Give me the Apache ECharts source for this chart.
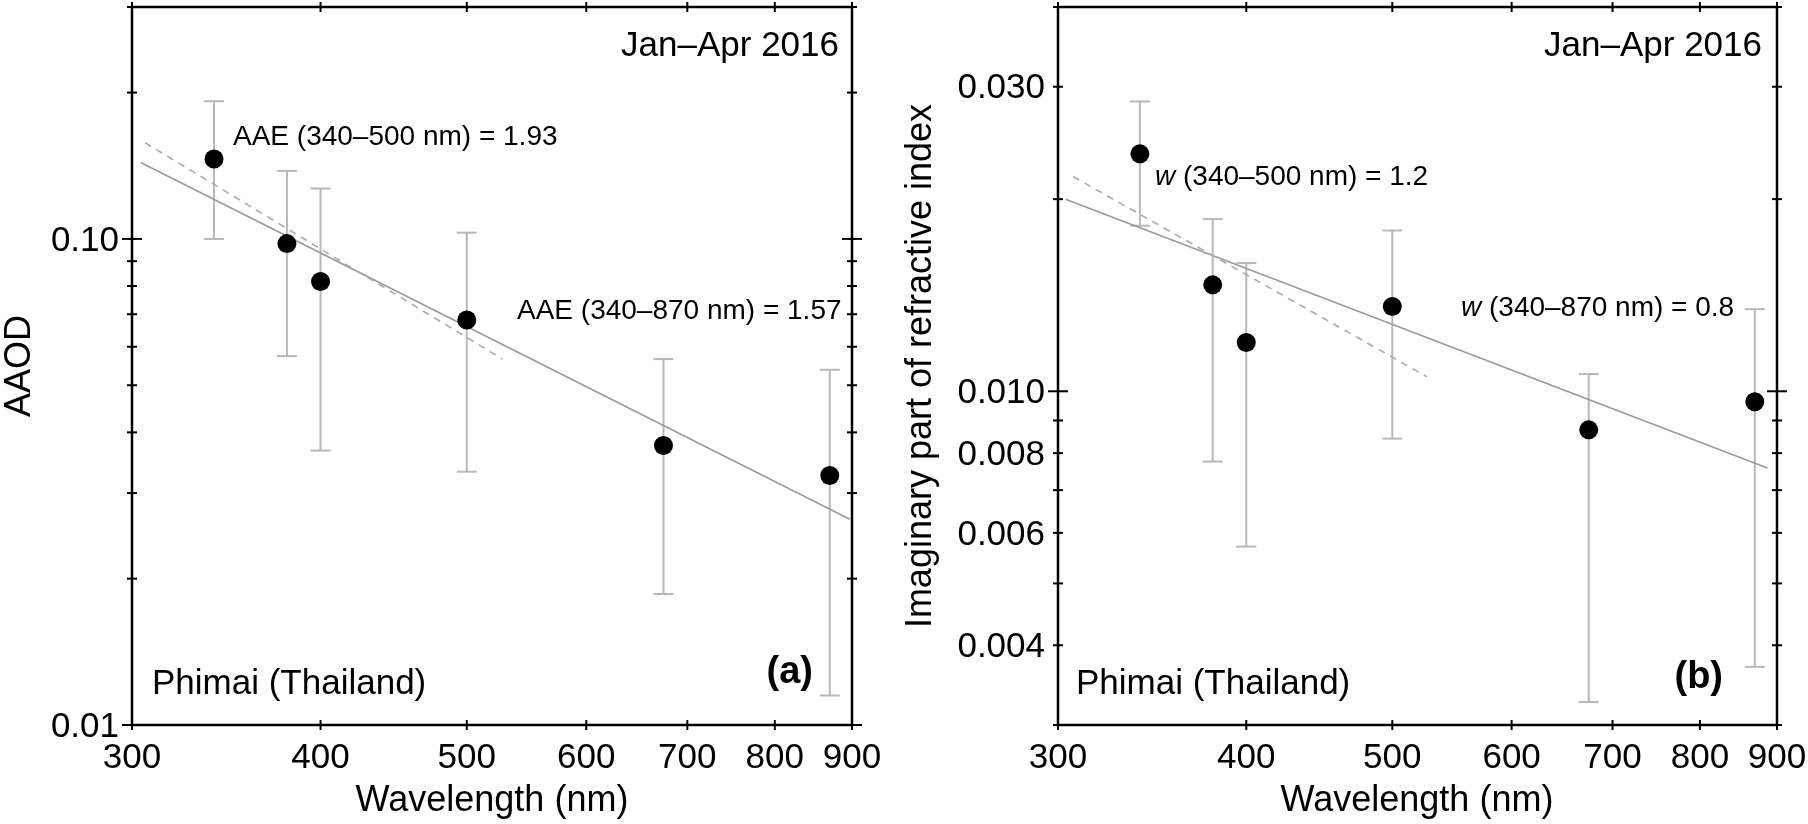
<!DOCTYPE html>
<html><head><meta charset="utf-8">
<script src="https://cdn.jsdelivr.net/npm/echarts@6/dist/echarts.min.js"></script>
<style>html,body{margin:0;padding:0;background:#fff}#chart{width:1808px;height:824px}</style>
</head><body><div id="chart"></div>
<script>
// ---- data ----
const wavelengths = [340, 380, 400, 500, 675, 870];
const aaodValues = [0.146, 0.0978, 0.0817, 0.0681, 0.0376, 0.0326];
const aaodUpper  = [0.192, 0.138, 0.127, 0.103, 0.0566, 0.0538];
const aaodLower  = [0.100, 0.0574, 0.0367, 0.0332, 0.0186, 0.0115];
const kValues = [0.02355, 0.01468, 0.01192, 0.01358, 0.00870, 0.00963];
const kUpper  = [0.02845, 0.01861, 0.01588, 0.01786, 0.01064, 0.01345];
const kLower  = [0.01817, 0.00776, 0.00571, 0.00843, 0.00326, 0.00370];
const aaeFit340to870 = [[304, 0.1436], [897, 0.0265]];
const aaeFit340to500 = [[306, 0.1578], [528, 0.0566]];
const wFit340to870 = [[303.5, 0.0200], [887, 0.00758]];
const wFit340to500 = [[307, 0.0217], [527, 0.01054]];
const xTickValues = [300, 400, 500, 600, 700, 800, 900];
const xTickLabels = ['300', '400', '500', '600', '700', '800', '900'];
const aaodTickValues = [0.01, 0.02, 0.03, 0.04, 0.05, 0.06, 0.07, 0.08, 0.09, 0.1, 0.2, 0.3];
const aaodLabelValues = [0.01, 0.1];
const aaodLabelTexts = ['0.01', '0.10'];
const kTickValues = [0.003, 0.004, 0.005, 0.006, 0.007, 0.008, 0.009, 0.01, 0.02, 0.03, 0.04];
const kLabelValues = [0.004, 0.006, 0.008, 0.01, 0.03];
const kLabelTexts = ['0.004', '0.006', '0.008', '0.010', '0.030'];

const FONT = '"Liberation Sans", Arial, sans-serif';
const chart = echarts.init(document.getElementById('chart'));

function isDecade(v) { const l = Math.log10(v); return Math.abs(l - Math.round(l)) < 1e-9; }

function buildTickDefs(yTicks, yLabelVals, yLabelTexts) {
  const defs = [];
  xTickValues.forEach((v, i) => defs.push({ axis: 'x', v: v, label: xTickLabels[i] }));
  yTicks.forEach(v => {
    const j = yLabelVals.findIndex(u => Math.abs(u - v) < 1e-12);
    defs.push({ axis: 'y', v: v, long: isDecade(v), label: j >= 0 ? yLabelTexts[j] : null });
  });
  return defs;
}

function tickSeries(gridIdx, defs, yRef) {
  return {
    type: 'custom', xAxisIndex: gridIdx, yAxisIndex: gridIdx, z: 10, silent: true,
    data: defs.map(d => d.axis === 'x' ? [d.v, yRef] : [300, d.v]),
    renderItem: function (params, api) {
      const cs = params.coordSys;
      const d = defs[params.dataIndex];
      const ch = [];
      const st = { stroke: '#000', lineWidth: 2 };
      if (d.axis === 'x') {
        const px = api.coord([d.v, yRef])[0];
        const yb = cs.y + cs.height, yt = cs.y, L = 5;
        ch.push({ type: 'line', shape: { x1: px, y1: yb - L, x2: px, y2: yb + L }, style: st });
        ch.push({ type: 'line', shape: { x1: px, y1: yt - L, x2: px, y2: yt + L }, style: st });
        ch.push({ type: 'text', style: { text: d.label, x: px, y: yb + 33, align: 'center', verticalAlign: 'middle', fontSize: 35, fontFamily: FONT, fill: '#000' } });
      } else {
        const py = api.coord([300, d.v])[1];
        const xl = cs.x, xr = cs.x + cs.width, L = d.long ? 10 : 5;
        ch.push({ type: 'line', shape: { x1: xl - L, y1: py, x2: xl + L, y2: py }, style: st });
        ch.push({ type: 'line', shape: { x1: xr - L, y1: py, x2: xr + L, y2: py }, style: st });
        if (d.label) ch.push({ type: 'text', style: { text: d.label, x: xl - 13, y: py + 2, align: 'right', verticalAlign: 'middle', fontSize: 35, fontFamily: FONT, fill: '#000' } });
      }
      return { type: 'group', children: ch };
    }
  };
}

function errorSeries(gridIdx, lo, hi) {
  return {
    type: 'custom', xAxisIndex: gridIdx, yAxisIndex: gridIdx, z: 2, silent: true,
    encode: { x: 0, y: [1, 2] },
    data: wavelengths.map((w, i) => [w, lo[i], hi[i]]),
    renderItem: function (params, api) {
      const p1 = api.coord([api.value(0), api.value(1)]);
      const p2 = api.coord([api.value(0), api.value(2)]);
      const hw = 10;
      const st = { stroke: '#b8b8b8', lineWidth: 2 };
      return { type: 'group', children: [
        { type: 'line', shape: { x1: p1[0], y1: p1[1], x2: p2[0], y2: p2[1] }, style: st },
        { type: 'line', shape: { x1: p1[0] - hw, y1: p1[1], x2: p1[0] + hw, y2: p1[1] }, style: st },
        { type: 'line', shape: { x1: p2[0] - hw, y1: p2[1], x2: p2[0] + hw, y2: p2[1] }, style: st }
      ] };
    }
  };
}

function fitLine(gridIdx, pts, dashed) {
  return {
    type: 'line', xAxisIndex: gridIdx, yAxisIndex: gridIdx, z: 3, silent: true,
    data: pts, symbol: 'none', animation: false,
    lineStyle: { color: dashed ? '#aaaaaa' : '#9a9a9a', width: 1.6, type: dashed ? [7, 6] : 'solid' }
  };
}

function dots(gridIdx, vals) {
  return {
    type: 'scatter', xAxisIndex: gridIdx, yAxisIndex: gridIdx, z: 5, silent: true,
    data: wavelengths.map((w, i) => [w, vals[i]]), symbolSize: 19,
    itemStyle: { color: '#000', opacity: 1 }
  };
}

const hiddenAxis = { axisLine: { show: false }, axisTick: { show: false }, axisLabel: { show: false }, splitLine: { show: false } };

function txt(text, x, y, size, align, extra) {
  return Object.assign({ type: 'text', x: x, y: y, z: 20, silent: true,
    style: Object.assign({ text: text, fontSize: size, fontFamily: FONT, fill: '#000', align: align, verticalAlign: 'middle' }, (extra && extra.style) || {}) },
    (extra && extra.el) || {});
}

const richW = { i: { fontStyle: 'italic', fontSize: 28, fontFamily: FONT } };

const option = {
  animation: false,
  backgroundColor: '#fff',
  grid: [
    { left: 132, right: 956, top: 7, bottom: 99, show: true, borderColor: '#000', borderWidth: 2.5, backgroundColor: 'transparent' },
    { left: 1058, right: 31, top: 7, bottom: 99, show: true, borderColor: '#000', borderWidth: 2.5, backgroundColor: 'transparent' }
  ],
  xAxis: [
    Object.assign({ type: 'log', logBase: 10, min: 300, max: 900, gridIndex: 0 }, hiddenAxis),
    Object.assign({ type: 'log', logBase: 10, min: 300, max: 900, gridIndex: 1 }, hiddenAxis)
  ],
  yAxis: [
    Object.assign({ type: 'log', logBase: 10, min: 0.01, max: 0.3, gridIndex: 0 }, hiddenAxis),
    Object.assign({ type: 'log', logBase: 10, min: 0.003, max: 0.04, gridIndex: 1 }, hiddenAxis)
  ],
  series: [
    errorSeries(0, aaodLower, aaodUpper),
    fitLine(0, aaeFit340to870, false),
    fitLine(0, aaeFit340to500, true),
    dots(0, aaodValues),
    tickSeries(0, buildTickDefs(aaodTickValues, aaodLabelValues, aaodLabelTexts), 0.01),
    errorSeries(1, kLower, kUpper),
    fitLine(1, wFit340to870, false),
    fitLine(1, wFit340to500, true),
    dots(1, kValues),
    tickSeries(1, buildTickDefs(kTickValues, kLabelValues, kLabelTexts), 0.003)
  ],
  graphic: [
    txt('Jan\u2013Apr 2016', 839, 46, 35, 'right'),
    txt('AAE (340\u2013500 nm) = 1.93', 233, 137, 28, 'left'),
    txt('AAE (340\u2013870 nm) = 1.57', 517, 311, 28, 'left'),
    txt('Phimai (Thailand)', 152, 684, 35, 'left'),
    txt('(a)', 813, 673, 38, 'right', { style: { fontWeight: 'bold' } }),
    txt('Wavelength (nm)', 492, 801, 36, 'center'),
    txt('AAOD', 20, 366, 36, 'center', { el: { rotation: Math.PI / 2 } }),
    txt('Jan\u2013Apr 2016', 1762, 46, 35, 'right'),
    txt('{i|w} (340\u2013500 nm) = 1.2', 1155, 177, 28, 'left', { style: { rich: richW } }),
    txt('{i|w} (340\u2013870 nm) = 0.8', 1461, 308, 28, 'left', { style: { rich: richW } }),
    txt('Phimai (Thailand)', 1076, 684, 35, 'left'),
    txt('(b)', 1723, 678, 38, 'right', { style: { fontWeight: 'bold' } }),
    txt('Wavelength (nm)', 1417, 801, 36, 'center'),
    txt('Imaginary part of refractive index', 921, 366, 36, 'center', { el: { rotation: Math.PI / 2 } })
  ]
};
chart.setOption(option);
</script>
</body></html>
